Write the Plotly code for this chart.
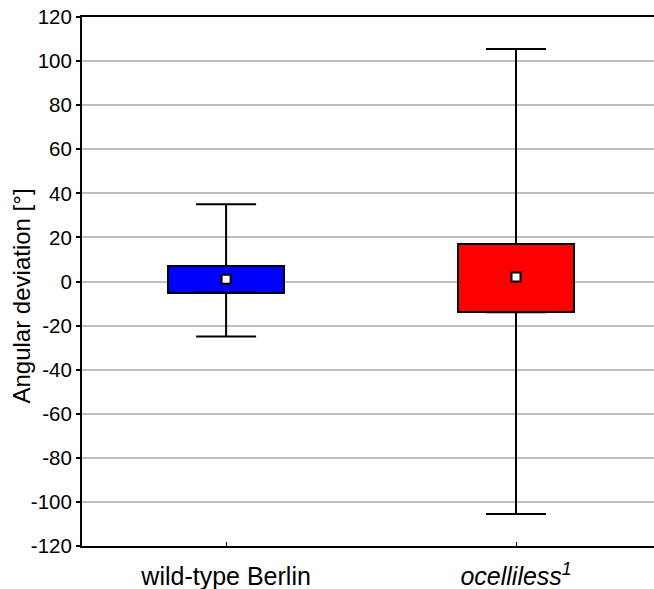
import plotly.graph_objects as go

categories = ["wild-type Berlin", "<i>ocelliless<sup>1</sup></i>"]
x_pos = [0, 1]
medians = [1, 2]
q1 = [-5, -14]
q3 = [7, 17]
whisk_low = [-25, -105.5]
whisk_high = [35, 105.5]
colors = ["#0000ff", "#ff0000"]
y_ticks = list(range(-120, 121, 20))
y_ticktext = [str(v) for v in y_ticks]  # hyphen-minus as in the reference
y_title = "Angular deviation [°]"

fig = go.Figure()

# boxes as bars
fig.add_trace(go.Bar(
    x=x_pos, y=[h - l for h, l in zip(q3, q1)], base=q1, width=0.4,
    marker=dict(color=colors, line=dict(color="black", width=2)),
    hoverinfo="skip", showlegend=False))

# upper whiskers
fig.add_trace(go.Scatter(
    x=x_pos, y=q3, mode="markers", marker=dict(size=1, opacity=0),
    error_y=dict(type="data", symmetric=False, array=[h - t for h, t in zip(whisk_high, q3)],
                 arrayminus=[0, 0], color="black", thickness=2, width=30),
    showlegend=False, hoverinfo="skip"))
# lower whiskers
fig.add_trace(go.Scatter(
    x=x_pos, y=q1, mode="markers", marker=dict(size=1, opacity=0),
    error_y=dict(type="data", symmetric=False, array=[0, 0],
                 arrayminus=[b - l for b, l in zip(q1, whisk_low)], color="black", thickness=2, width=30),
    showlegend=False, hoverinfo="skip"))

# median markers
fig.add_trace(go.Scatter(
    x=x_pos, y=medians, mode="markers",
    marker=dict(symbol="square", size=9, color="white", line=dict(color="black", width=2)),
    showlegend=False, hoverinfo="skip"))

font = "Liberation Sans, Arial, sans-serif"
fig.update_layout(
    width=654, height=589,
    margin=dict(l=82, r=0, t=17, b=43),
    plot_bgcolor="white", paper_bgcolor="white",
    font=dict(family=font, color="black"),
    bargap=0,
    xaxis=dict(range=[-0.497, 1.476], tickvals=x_pos, ticktext=categories,
               showline=True, linecolor="black", linewidth=2, mirror=True,
               ticks="inside", ticklen=4, tickcolor="black", tickwidth=1,
               ticklabelstandoff=7, automargin=False,
               showgrid=False, zeroline=False, tickfont=dict(size=25, family=font)),
    yaxis=dict(range=[-120, 120], tickvals=y_ticks, ticktext=y_ticktext,
               showline=True, linecolor="black", linewidth=2,
               ticks="outside", ticklen=4, tickcolor="black", tickwidth=2,
               showgrid=True, gridcolor="#c0c0c0", gridwidth=2, zeroline=False,
               automargin=False,
               tickfont=dict(size=20.5, family=font)),
    annotations=[dict(text=y_title, xref="paper", yref="paper", x=-0.1049, y=0.4735,
                      xanchor="center", yanchor="middle", textangle=-90, showarrow=False,
                      font=dict(size=24, family=font))],
)

fig.write_html("out.html")
